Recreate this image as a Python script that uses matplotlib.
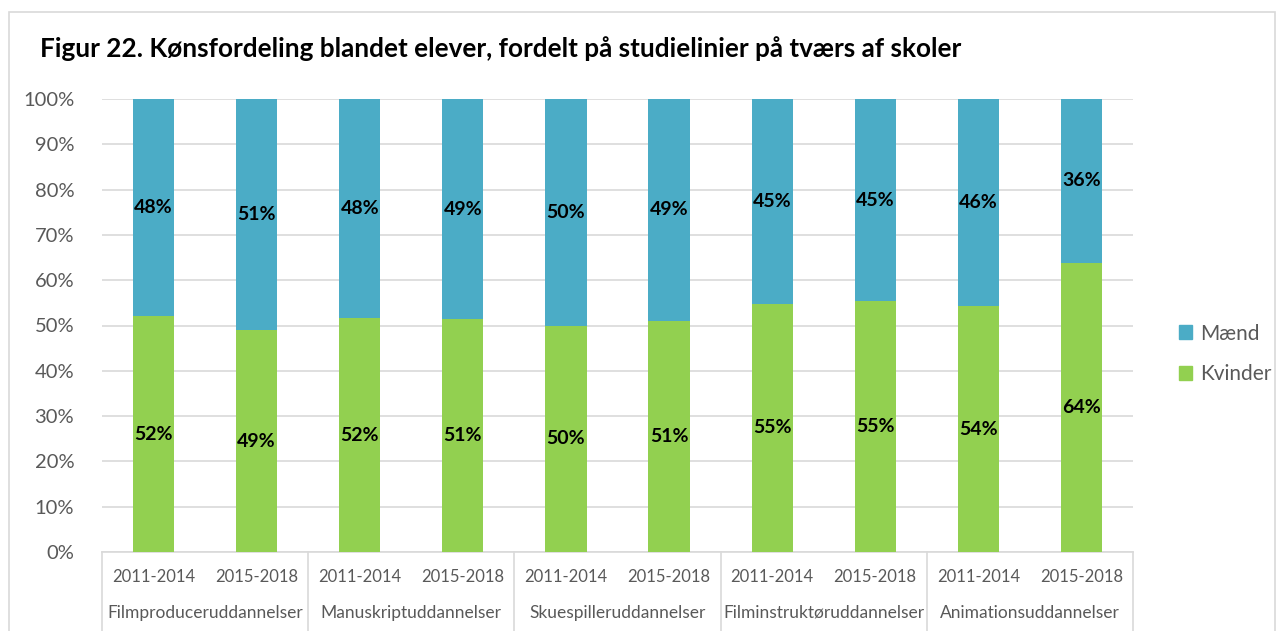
import matplotlib
matplotlib.use("Agg")
import matplotlib.pyplot as plt
from matplotlib.patches import Patch, Rectangle
import numpy as np

plt.rcParams['font.family'] = ['Lato', 'DejaVu Sans']

perioder = ['2011-2014', '2015-2018'] * 5
linjer = ['Filmproduceruddannelser', 'Manuskriptuddannelser', 'Skuespilleruddannelser',
          'Filminstruktøruddannelser', 'Animationsuddannelser']
kvinder = [52.0, 48.9, 51.6, 51.4, 50.0, 51.0, 54.8, 55.4, 54.2, 63.9]
maend = [100 - k for k in kvinder]

blue = '#4BACC6'
green = '#92D050'
grid = '#D9D9D9'
txtgray = '#595959'

fig = plt.figure(figsize=(12.85, 6.31), dpi=100)
ax = fig.add_axes([102/1285, 79/631, 1031/1285, 453/631])

x = np.arange(len(kvinder))
ax.bar(x, kvinder, width=0.4, color=green, zorder=3)
ax.bar(x, maend, width=0.4, bottom=kvinder, color=blue, zorder=3)

for i in range(len(x)):
    ax.text(x[i], kvinder[i] / 2, f'{round(kvinder[i])}%', ha='center', va='center',
            fontsize=14, fontweight='bold', color='black', zorder=4)
    ax.text(x[i], kvinder[i] + maend[i] / 2, f'{round(maend[i])}%', ha='center', va='center',
            fontsize=14, fontweight='bold', color='black', zorder=4)

ax.set_xlim(-0.5, 9.5)
ax.set_ylim(0, 100)
ax.set_yticks(range(0, 101, 10))
ax.set_yticklabels([f'{v}%' for v in range(0, 101, 10)], fontsize=14.5, color=txtgray)
ax.tick_params(axis='y', length=0, pad=20)
ax.set_xticks([])
ax.yaxis.grid(True, color=grid, linewidth=1.2, zorder=0)
for s in ['top', 'right', 'left']:
    ax.spines[s].set_visible(False)
ax.spines['bottom'].set_color(grid)
ax.spines['bottom'].set_linewidth(1.2)

tr = ax.get_xaxis_transform()
for i in range(len(x)):
    ax.text(x[i], -25/453, perioder[i], transform=tr, ha='center', va='center',
            fontsize=12, color=txtgray)
for g in range(5):
    ax.text(2 * g + 0.5, -61/453, linjer[g], transform=tr, ha='center', va='center',
            fontsize=12.5, color=txtgray)
for b in np.arange(-0.5, 10, 2):
    ax.plot([b, b], [0, -80/453], transform=tr, color=grid, linewidth=1.2, clip_on=False)

fig.text(40/1285, 1 - 49/631, 'Figur 22. Kønsfordeling blandet elever, fordelt på studielinier på tværs af skoler',
         fontsize=18.8, fontweight='bold', va='center', ha='left', color='black')

handles = [Patch(color=blue, label='Mænd'), Patch(color=green, label='Kvinder')]
fig.legend(handles=handles, loc='center left', bbox_to_anchor=(1160/1285, 1 - 354/631),
           frameon=False, fontsize=15, handlelength=0.65, handleheight=0.65,
           labelspacing=1.0, handletextpad=0.4, labelcolor=txtgray)

fig.add_artist(Rectangle((9/1285, -0.01), 1266/1285, 1 - 12/631 + 0.01, transform=fig.transFigure,
                         fill=False, edgecolor=grid, linewidth=1.2))

fig.savefig('out.png', dpi=100)
